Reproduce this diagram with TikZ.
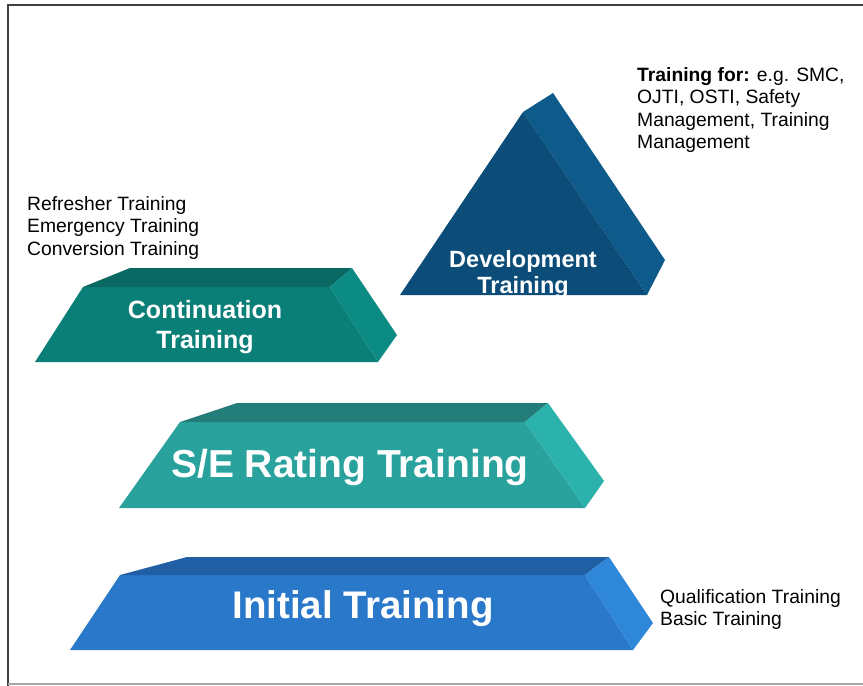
\documentclass[tikz,border=0pt]{standalone}
\usepackage{fontspec}
\setmainfont{Liberation Sans}
\usepackage{tikz}
\definecolor{initfront}{HTML}{2A78C9}
\definecolor{inittop}{HTML}{215FA5}
\definecolor{initside}{HTML}{2F87DA}
\definecolor{ratefront}{HTML}{29A19D}
\definecolor{ratetop}{HTML}{237E7A}
\definecolor{rateside}{HTML}{2BB2AD}
\definecolor{contfront}{HTML}{0A7F78}
\definecolor{conttop}{HTML}{0A6862}
\definecolor{contside}{HTML}{0C8B84}
\definecolor{devfront}{HTML}{0B4D78}
\definecolor{devside}{HTML}{0E5B8B}

\begin{document}
\begin{tikzpicture}[x=1pt,y=-1pt,
  blocktext/.style={white,align=center,inner sep=0pt},
  sidenote/.style={black,align=left,anchor=north west,inner sep=0pt,font=\fontsize{19.3}{22.5}\selectfont}]
	\useasboundingbox (0,0) rectangle (863,686);
	\fill [white] (0,0) rectangle (863,686);
	% frame
	\draw [line width=2pt,black!75] (8,686) -- (8,5) -- (863,5);
	\draw [line width=1.5pt,black!35] (8,684) -- (863,684);
	% initial training
	\fill [initfront] (70,650) -- (120,575) -- (585,575) -- (633,650) -- cycle;
	\fill [inittop] (120,575) -- (187,557) -- (609,557) -- (585,575) -- cycle;
	\fill [initside] (585,575) -- (609,557) -- (653,623) -- (633,650) -- cycle;
	\node [blocktext,font=\bfseries\fontsize{38.5}{40}\selectfont] (initial) at (363,609) {Initial Training};
	% s/e rating training
	\fill [ratefront] (119,508) -- (180,422) -- (525,422) -- (585,508) -- cycle;
	\fill [ratetop] (180,422) -- (237,403) -- (548,403) -- (525,422) -- cycle;
	\fill [rateside] (525,422) -- (548,403) -- (604,481) -- (585,508) -- cycle;
	\node [blocktext,font=\bfseries\fontsize{39}{40}\selectfont] (rating) at (350,467) {S/E Rating Training};
	% continuation training
	\fill [contfront] (35,362) -- (83,287) -- (330,287) -- (378,362) -- cycle;
	\fill [conttop] (83,287) -- (130,268) -- (352,268) -- (330,287) -- cycle;
	\fill [contside] (330,287) -- (352,268) -- (397,335) -- (378,362) -- cycle;
	\node [blocktext,font=\bfseries\fontsize{25}{30}\selectfont] (cont) at (205,327) {Continuation\\Training};
	% development training
	\fill [devside] (523,112) -- (553,93) -- (665,260) -- (647,295) -- cycle;
	\fill [devfront] (400,295) -- (523,112) -- (647,295) -- cycle;
	\begin{scope}
		\clip (400,295) -- (523,112) -- (647,295) -- cycle;
		\node [blocktext,font=\bfseries\fontsize{23.5}{26}\selectfont] (dev) at (523,274) {Development\\Training};
	\end{scope}
	% notes
	\node [sidenote] (contnote) at (27,196) {Refresher Training\\Emergency Training\\Conversion Training};
	\node [sidenote] (devnote) at (637,67) {\textbf{Training for:} e.g. SMC,\\OJTI, OSTI, Safety\\Management, Training\\Management};
	\node [sidenote] (initnote) at (660,589) {Qualification Training\\Basic Training};
\end{tikzpicture}
\end{document}
